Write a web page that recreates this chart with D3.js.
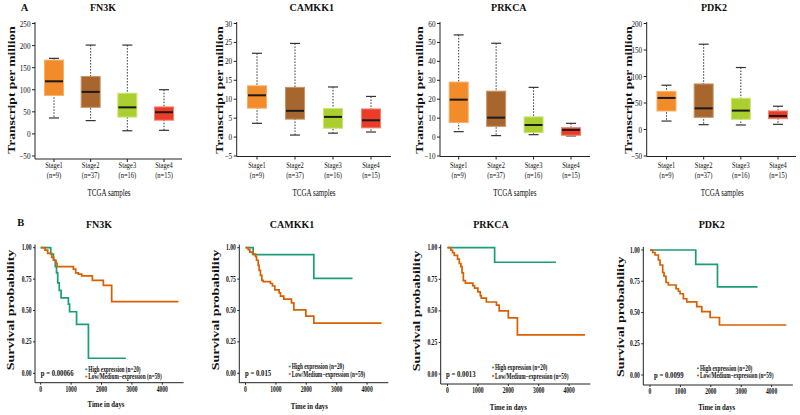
<!DOCTYPE html>
<html><head><meta charset="utf-8">
<script src="https://cdn.jsdelivr.net/npm/d3@7"></script>
<style>
body{margin:0;background:#fff}
svg{display:block}
text{font-family:"Liberation Serif","Times New Roman",serif;fill:#111}
</style></head><body>
<svg id="c" width="800" height="415"></svg>
<script>
// ---------------- DATA ----------------
const genes = ["FN3K", "CAMKK1", "PRKCA", "PDK2"];
const stages = ["Stage1", "Stage2", "Stage3", "Stage4"];
const stageN = ["(n=9)", "(n=37)", "(n=16)", "(n=15)"];
// box stats: [min, q1, median, q3, max]
const boxFN3K   = [[35,86,118,166,170],[29,59,94,129,200],[6,37,59,91,200],[7,30,48,60,99]];
const boxCAMKK1 = [[3.5,7.5,10.9,13.4,22],[0.4,4.6,6.8,13,24.6],[0.9,2.2,5.2,7.4,13.1],[1.2,2.3,4.3,7.3,10.6]];
const boxPRKCA  = [[2.6,7.4,19.5,28.8,53.7],[0.5,5.4,10,24,49.3],[1,2.1,6.1,10.4,26],[0.35,0.7,3.5,4.7,7]];
const boxPDK2   = [[15,34,58.6,71,82.6],[8.2,22,39,85,160],[7.6,18.3,34.7,58,116],[8.8,19.5,24.6,34,43]];
const yTicksFN3K = [-50,0,50,100,150,200,250];
const yTicksCAMKK1 = [-5,0,5,10,15,20,25,30];
const yTicksPRKCA = [-10,0,10,20,30,40,50,60];
const yTicksPDK2 = [-50,0,50,100,150,200];

// Kaplan-Meier step points [time, survival] and last follow-up time
const kmHighFN3K = [[0,1],[330,0.95],[420,0.90],[480,0.85],[520,0.80],[560,0.72],[610,0.66],[670,0.60],[910,0.55],[950,0.49],[1180,0.39],[1570,0.12]];
const kmHighFN3KEnd = 2800;
const kmLowFN3K = [[0,1],[143,0.98],[230,0.955],[362,0.923],[428,0.90],[504,0.875],[537,0.85],[1075,0.83],[1151,0.80],[1239,0.79],[1350,0.775],[1700,0.74],[2061,0.70],[2335,0.57]];
const kmLowFN3KEnd = 4530;
const kmHighCAMKK1 = [[0,1],[252,0.945],[2248,0.755]];
const kmHighCAMKK1End = 3520;
const kmLowCAMKK1 = [[0,1],[88,0.985],[143,0.965],[230,0.95],[329,0.93],[362,0.90],[417,0.86],[450,0.82],[493,0.78],[537,0.74],[581,0.73],[822,0.715],[888,0.695],[965,0.665],[1107,0.64],[1151,0.615],[1261,0.59],[1513,0.56],[1590,0.505],[1985,0.455],[2248,0.40]];
const kmLowCAMKK1End = 4474;
const kmHighPRKCA = [[0,1],[1550,0.885]];
const kmHighPRKCAEnd = 3570;
const kmLowPRKCA = [[0,1],[111,0.98],[167,0.96],[222,0.94],[330,0.91],[389,0.875],[440,0.85],[478,0.80],[522,0.74],[589,0.72],[833,0.70],[889,0.68],[1000,0.65],[1078,0.62],[1111,0.60],[1278,0.57],[1611,0.545],[1700,0.50],[2000,0.445],[2300,0.31]];
const kmLowPRKCAEnd = 4522;
const kmHighPDK2 = [[0,1],[1505,0.885],[2220,0.705]];
const kmHighPDK2End = 3538;
const kmLowPDK2 = [[0,1],[88,0.98],[165,0.96],[275,0.92],[330,0.88],[418,0.82],[462,0.79],[527,0.74],[604,0.72],[857,0.69],[934,0.67],[989,0.65],[1099,0.61],[1209,0.585],[1538,0.547],[1703,0.507],[1978,0.46],[2286,0.40]];
const kmLowPDK2End = 4484;
const pValues = ["p = 0.00066", "p = 0.015", "p = 0.0013", "p = 0.0099"];
const legendLabels = ["High expression (n=20)", "Low/Medium\u2212expression (n=59)"];
const survTicksY = [0, 0.25, 0.5, 0.75, 1];
const survTicksX = [0, 1000, 2000, 3000, 4000];

// ---------------- STYLE / LAYOUT ----------------
const stageFill = ["#F28B2A", "#A8662F", "#AACF2E", "#EC3B26"];
const stageStroke = ["#F7B06A", "#C99564", "#CDE47A", "#F3826F"];
const kmColors = ["#1B9E77", "#D95F02"];

const boxes = [boxFN3K, boxCAMKK1, boxPRKCA, boxPDK2];
const yTicksA = [yTicksFN3K, yTicksCAMKK1, yTicksPRKCA, yTicksPDK2];
const kmHigh = [kmHighFN3K, kmHighCAMKK1, kmHighPRKCA, kmHighPDK2];
const kmHighEnd = [kmHighFN3KEnd, kmHighCAMKK1End, kmHighPRKCAEnd, kmHighPDK2End];
const kmLow = [kmLowFN3K, kmLowCAMKK1, kmLowPRKCA, kmLowPDK2];
const kmLowEnd = [kmLowFN3KEnd, kmLowCAMKK1End, kmLowPRKCAEnd, kmLowPDK2End];

const layA = [
  {axisX:35,    xFirst:54,    xLast:164, xEnd:182, axisY:159,   titleX:103,   ylabX:10.5},
  {axisX:236.7, xFirst:257,   xLast:371, xEnd:391, axisY:156.5, titleX:311.7, ylabX:218},
  {axisX:440,   xFirst:458.7, xLast:571, xEnd:590, axisY:156.5, titleX:508.8, ylabX:418.7},
  {axisX:646.7, xFirst:666.5, xLast:778, xEnd:796, axisY:156.5, titleX:714,   ylabX:627.5}
];
const layB = [
  {axisX:35,    x0:40.7,  y1:247.7, y0:373.3, axisY:382.7, titleX:99,    ylabX:9.5,   ylabY:310,   xlabX:106,   xlabY:407,   pX:40.7, legX:88.3,  legY1:369.3, legY2:376.6},
  {axisX:239.3, x0:245.5, y1:247.7, y0:373.3, axisY:382.7, titleX:292,   ylabX:214.3, ylabY:310,   xlabX:309.3, xlabY:408.5, pX:245,  legX:291.7, legY1:366.5, legY2:374},
  {axisX:440.7, x0:447.5, y1:247.7, y0:374,   axisY:384,   titleX:491,   ylabX:415.7, ylabY:311,   xlabX:508.3, xlabY:410,   pX:446,  legX:495,   legY1:367.5, legY2:376},
  {axisX:643.3, x0:650,   y1:250,   y0:375,   axisY:385,   titleX:711.7, ylabX:619.5, ylabY:316.7, xlabX:716.7, xlabY:410,   pX:654,  legX:700,   legY1:368.3, legY2:375.5}
];

const svg = d3.select("#c");

function txt(g, x, y, s, o = {}) {
  const sx = o.sx == null ? 1 : o.sx;
  let tf = `translate(${x},${y}) scale(${sx},1)`;
  if (o.rot) tf += ` rotate(${o.rot})`;
  return g.append("text").attr("transform", tf)
    .attr("text-anchor", o.anchor || "start")
    .style("font-size", (o.size || 9) + "px")
    .style("font-weight", o.bold ? "bold" : "normal")
    .text(s);
}

// Panel letters
txt(svg, 20.7, 11, "A", {size: 10.5, bold: true});
txt(svg, 17.3, 225.5, "B", {size: 10.5, bold: true});

// ---------------- PANEL A: box plots ----------------
genes.forEach((gene, gi) => {
  const L = layA[gi];
  const g = svg.append("g");
  const ticks = yTicksA[gi];
  const y = d3.scaleLinear().domain([ticks[0], ticks[ticks.length - 1]]).range([155.5, 23]);
  const x = d3.scalePoint().domain(stages).range([L.xFirst, L.xLast]);
  const bw = 19;

  // y axis
  const yAxis = d3.axisLeft(y).tickValues(ticks).tickSize(3).tickSizeOuter(0).tickFormat(d3.format("d"));
  const ag = g.append("g").attr("transform", `translate(${L.axisX},0)`).call(yAxis);
  ag.select(".domain").remove();
  ag.selectAll("line").attr("stroke", "#222");
  ag.selectAll("text").attr("x", null).attr("dy", null)
    .attr("transform", "translate(-4.5,3) scale(0.8,1)")
    .style("font-size", "9px").style("font-family", '"Liberation Serif",serif')
    .attr("text-anchor", "end");
  g.append("line").attr("x1", L.axisX).attr("x2", L.axisX).attr("y1", 22).attr("y2", L.axisY)
    .attr("stroke", "#222").attr("stroke-width", 1);
  // x axis
  g.append("line").attr("x1", L.axisX).attr("x2", L.xEnd).attr("y1", L.axisY).attr("y2", L.axisY)
    .attr("stroke", "#222").attr("stroke-width", 1);
  stages.forEach(s => {
    g.append("line").attr("x1", x(s)).attr("x2", x(s)).attr("y1", L.axisY).attr("y2", L.axisY + 3).attr("stroke", "#222");
  });

  // boxes
  boxes[gi].forEach((b, i) => {
    const cx = x(stages[i]);
    const [mn, q1, md, q3, mx] = b;
    g.append("line").attr("x1", cx).attr("x2", cx).attr("y1", y(mx)).attr("y2", y(mn))
      .attr("stroke", "#333").attr("stroke-width", 1).attr("stroke-dasharray", "1.5,1.5");
    [mn, mx].forEach(v => g.append("line").attr("x1", cx - 5).attr("x2", cx + 5)
      .attr("y1", y(v)).attr("y2", y(v)).attr("stroke", "#333").attr("stroke-width", 1.2));
    g.append("rect").attr("x", cx - bw / 2).attr("width", bw).attr("y", y(q3)).attr("height", y(q1) - y(q3))
      .attr("fill", stageFill[i]).attr("stroke", stageStroke[i]).attr("stroke-width", 1);
    g.append("line").attr("x1", cx - bw / 2 + 0.5).attr("x2", cx + bw / 2 - 0.5).attr("y1", y(md)).attr("y2", y(md))
      .attr("stroke", "#1a1a1a").attr("stroke-width", 2);
    txt(g, cx, 167.5, stages[i], {size: 9, sx: 0.72, anchor: "middle"});
    txt(g, cx, 177.5, stageN[i], {size: 9, sx: 0.72, anchor: "middle"});
  });

  txt(g, (L.xFirst + L.xLast) / 2, 195.5, "TCGA samples", {size: 9.5, sx: 0.74, anchor: "middle"});
  txt(g, L.titleX, 11, gene, {size: 10, bold: true, anchor: "middle"});
  txt(g, L.ylabX + 4.5, 90, "Transcript per million", {size: 13.5, bold: true, sx: 0.8, anchor: "middle", rot: -90});
});

// ---------------- PANEL B: Kaplan-Meier ----------------
genes.forEach((gene, gi) => {
  const L = layB[gi];
  const g = svg.append("g");
  const x = d3.scaleLinear().domain([0, 4000]).range([L.x0, L.x0 + 121.6]);
  const y = d3.scaleLinear().domain([0, 1]).range([L.y0, L.y1]);

  // axes lines
  g.append("line").attr("x1", L.axisX).attr("x2", L.axisX).attr("y1", y(1.025)).attr("y2", L.axisY).attr("stroke", "#222");
  g.append("line").attr("x1", L.axisX).attr("x2", x(4700)).attr("y1", L.axisY).attr("y2", L.axisY).attr("stroke", "#222");

  survTicksY.forEach(v => {
    g.append("line").attr("x1", L.axisX - 2).attr("x2", L.axisX).attr("y1", y(v)).attr("y2", y(v)).attr("stroke", "#222");
    txt(g, L.axisX - 3.5, y(v) + 2.5, d3.format(".2f")(v), {size: 7.5, bold: true, sx: 0.75, anchor: "end"});
  });
  survTicksX.forEach(v => {
    g.append("line").attr("x1", x(v)).attr("x2", x(v)).attr("y1", L.axisY).attr("y2", L.axisY + 2).attr("stroke", "#222");
    txt(g, x(v), L.axisY + 9.3, String(v), {size: 7.5, bold: true, sx: 0.75, anchor: "middle"});
  });

  const line = d3.line().x(d => x(d[0])).y(d => y(d[1])).curve(d3.curveStepAfter);
  const series = [
    kmHigh[gi].concat([[kmHighEnd[gi], kmHigh[gi][kmHigh[gi].length - 1][1]]]),
    kmLow[gi].concat([[kmLowEnd[gi], kmLow[gi][kmLow[gi].length - 1][1]]])
  ];
  [0, 1].forEach(k => {
    g.append("path").datum(series[k]).attr("d", line).attr("fill", "none")
      .attr("stroke", kmColors[k]).attr("stroke-width", 1.7).attr("stroke-linejoin", "miter");
  });

  // p-value and legend
  txt(g, L.pX, L.y0 + 3, pValues[gi], {size: 7.5, bold: true, sx: 0.9});
  [L.legY1, L.legY2].forEach((ly, k) => {
    g.append("rect").attr("x", L.legX - 3).attr("y", ly - 0.8).attr("width", 2).attr("height", 1.6).attr("fill", kmColors[k]);
    txt(g, L.legX, ly + 2.6, legendLabels[k], {size: 7.8, bold: true, sx: 0.68});
  });

  txt(g, L.titleX, 228, gene, {size: 10, bold: true, anchor: "middle"});
  txt(g, L.xlabX, L.xlabY, "Time in days", {size: 9, bold: true, sx: 0.75, anchor: "middle"});
  txt(g, L.ylabX + 4.5, L.ylabY, "Survival probability", {size: 14, bold: true, sx: 0.75, anchor: "middle", rot: -90});
});
</script>
</body></html>
